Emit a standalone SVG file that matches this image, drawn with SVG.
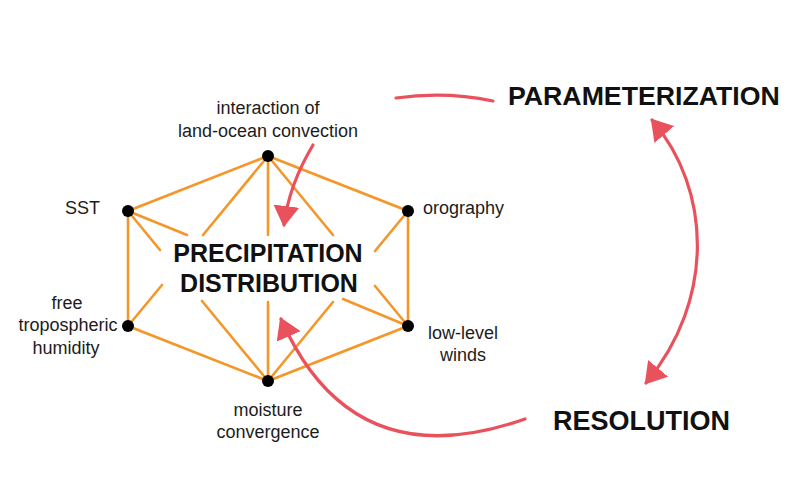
<svg xmlns="http://www.w3.org/2000/svg" width="805" height="477" viewBox="0 0 805 477">
<style>
.lbl{font-family:"Liberation Sans",Arial,sans-serif;font-size:18px;fill:#1c1c1c}
.big{font-family:"Liberation Sans",Arial,sans-serif;font-weight:bold;fill:#111}
.edge{stroke:#F5962A;stroke-width:2.6;fill:none;stroke-linecap:round}
.red{stroke:#E9525C;stroke-width:3.2;fill:none;stroke-linecap:round}
.dot{fill:#000}
</style>
<defs>
<marker id="ah" viewBox="0 0 21 26" refX="19" refY="13" markerWidth="21" markerHeight="26" markerUnits="userSpaceOnUse" orient="auto-start-reverse">
<path d="M0,0 L21,13 L0,26 z" fill="#E9525C"/>
</marker>
</defs>
<rect width="805" height="477" fill="#fff"/>
<g id="connectors">
<g id="graph-edges">
<path class="edge" d="M268,156 L128,211 L128,326 L268,381 L408,326 L408,211 Z"/>
<line class="edge" x1="268" y1="156" x2="203" y2="235"/>
<line class="edge" x1="128" y1="326" x2="162" y2="285"/>
<line class="edge" x1="268" y1="156" x2="268" y2="235"/>
<line class="edge" x1="268" y1="302" x2="268" y2="381"/>
<line class="edge" x1="268" y1="156" x2="333" y2="235"/>
<line class="edge" x1="408" y1="326" x2="375" y2="286"/>
<line class="edge" x1="128" y1="211" x2="187" y2="235"/>
<line class="edge" x1="343" y1="299" x2="408" y2="326"/>
<line class="edge" x1="128" y1="211" x2="160" y2="250"/>
<line class="edge" x1="202" y1="301" x2="268" y2="381"/>
<line class="edge" x1="408" y1="211" x2="375" y2="251"/>
<line class="edge" x1="333" y1="302" x2="268" y2="381"/>
</g>
<path class="red" d="M396,98 Q445,91 493,101"/>
<path class="red" d="M313,145 Q289,185 284,225" marker-end="url(#ah)"/>
<path class="red" d="M525,419 Q352,480 281,319" marker-end="url(#ah)"/>
<path class="red" d="M652,120 C712,190 715,300 646,383" marker-start="url(#ah)" marker-end="url(#ah)"/>
</g>
<g id="node-interaction">
<circle class="dot" cx="268" cy="156" r="6"/>
<text class="lbl" x="268" y="114" text-anchor="middle">interaction of</text>
<text class="lbl" x="268" y="137" text-anchor="middle">land-ocean convection</text>
</g>
<g id="node-sst">
<circle class="dot" cx="128" cy="211" r="6"/>
<text class="lbl" x="100" y="214" text-anchor="end">SST</text>
</g>
<g id="node-orography">
<circle class="dot" cx="408" cy="211" r="6"/>
<text class="lbl" x="423" y="214">orography</text>
</g>
<g id="node-humidity">
<circle class="dot" cx="128" cy="326" r="6"/>
<text class="lbl" x="67" y="309" text-anchor="middle">free</text>
<text class="lbl" x="68" y="331" text-anchor="middle">tropospheric</text>
<text class="lbl" x="66" y="354" text-anchor="middle">humidity</text>
</g>
<g id="node-winds">
<circle class="dot" cx="408" cy="326" r="6"/>
<text class="lbl" x="463" y="339" text-anchor="middle">low-level</text>
<text class="lbl" x="463" y="361" text-anchor="middle">winds</text>
</g>
<g id="node-moisture">
<circle class="dot" cx="268" cy="381" r="6"/>
<text class="lbl" x="268" y="416" text-anchor="middle">moisture</text>
<text class="lbl" x="268" y="438" text-anchor="middle">convergence</text>
</g>
<g id="node-precipitation">
<text class="big" x="268" y="262" font-size="25" text-anchor="middle">PRECIPITATION</text>
<text class="big" x="269" y="292" font-size="25" text-anchor="middle">DISTRIBUTION</text>
</g>
<g id="node-parameterization">
<text class="big" x="508" y="105" font-size="26.7">PARAMETERIZATION</text>
</g>
<g id="node-resolution">
<text class="big" x="553" y="430" font-size="27">RESOLUTION</text>
</g>
</svg>
